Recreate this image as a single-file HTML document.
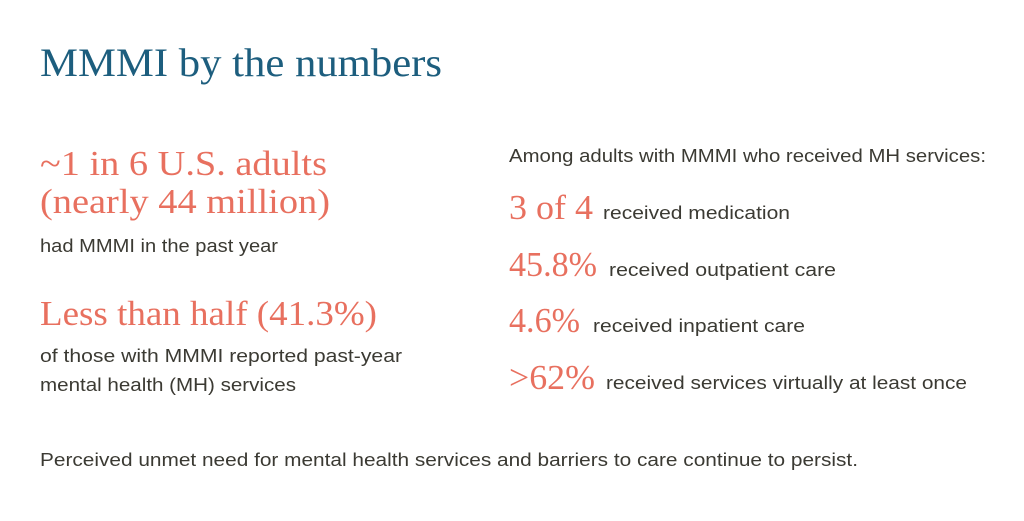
<!DOCTYPE html>
<html><head><meta charset="utf-8"><style>
html,body{margin:0;padding:0;background:#fff;}
svg{display:block}
.s{font-family:"Liberation Serif",serif;}
.a{font-family:"Liberation Sans",sans-serif;fill:#3b3a33;font-size:18px;}
.c{fill:#e8705f;}
</style></head><body>
<svg width="1024" height="521" viewBox="0 0 1024 521">
<rect width="1024" height="521" fill="#fff"/>
<text class="s" x="40" y="76" font-size="40" fill="#1d5e7e" textLength="402" lengthAdjust="spacingAndGlyphs">MMMI by the numbers</text>
<text class="s c" x="40" y="175" font-size="35" textLength="287" lengthAdjust="spacingAndGlyphs">~1 in 6 U.S. adults</text>
<text class="s c" x="40" y="213" font-size="35" textLength="290" lengthAdjust="spacingAndGlyphs">(nearly 44 million)</text>
<text class="a" x="40" y="252" textLength="238" lengthAdjust="spacingAndGlyphs">had MMMI in the past year</text>
<text class="s c" x="40" y="325" font-size="35" textLength="337" lengthAdjust="spacingAndGlyphs">Less than half (41.3%)</text>
<text class="a" x="40" y="362" textLength="362" lengthAdjust="spacingAndGlyphs">of those with MMMI reported past-year</text>
<text class="a" x="40" y="391" textLength="256" lengthAdjust="spacingAndGlyphs">mental health (MH) services</text>
<text class="a" x="509" y="162" textLength="477" lengthAdjust="spacingAndGlyphs">Among adults with MMMI who received MH services:</text>
<text class="s c" x="509" y="219" font-size="35" textLength="84" lengthAdjust="spacingAndGlyphs">3 of 4</text>
<text class="a" x="603" y="219" textLength="187" lengthAdjust="spacingAndGlyphs">received medication</text>
<text class="s c" x="509" y="276" font-size="35" textLength="88" lengthAdjust="spacingAndGlyphs">45.8%</text>
<text class="a" x="609" y="276" textLength="227" lengthAdjust="spacingAndGlyphs">received outpatient care</text>
<text class="s c" x="509" y="332" font-size="35" textLength="71" lengthAdjust="spacingAndGlyphs">4.6%</text>
<text class="a" x="593" y="332" textLength="212" lengthAdjust="spacingAndGlyphs">received inpatient care</text>
<text class="s c" x="509" y="389" font-size="35" textLength="86" lengthAdjust="spacingAndGlyphs">&gt;62%</text>
<text class="a" x="606" y="389" textLength="361" lengthAdjust="spacingAndGlyphs">received services virtually at least once</text>
<text class="a" x="40" y="466" textLength="818" lengthAdjust="spacingAndGlyphs">Perceived unmet need for mental health services and barriers to care continue to persist.</text>
</svg>
</body></html>
